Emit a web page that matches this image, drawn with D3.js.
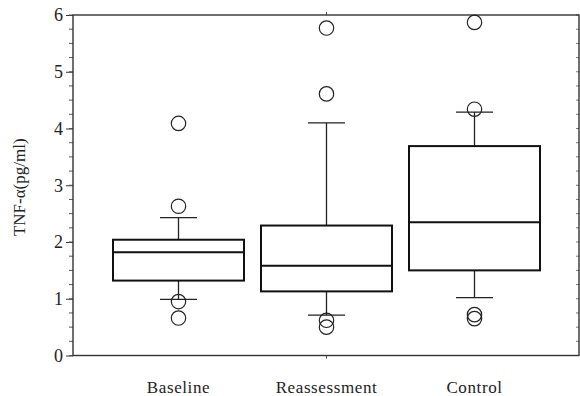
<!DOCTYPE html>
<html>
<head>
<meta charset="utf-8">
<script src="https://cdn.jsdelivr.net/npm/d3@7"></script>
<style>
  body { margin: 0; background: #fff; }
  svg text { font-family: "Liberation Serif", "Times New Roman", Times, "DejaVu Serif", serif; fill: #222; }
</style>
</head>
<body>
<svg id="chart" width="580" height="396"></svg>
<script>
// categories and box stats
var categories = ["Baseline", "Reassessment", "Control"];
var q1 = [1.32, 1.13, 1.50];
var median = [1.82, 1.58, 2.35];
var q3 = [2.04, 2.29, 3.69];
var whiskerLow = [0.99, 0.71, 1.02];
var whiskerHigh = [2.43, 4.10, 4.29];
var outliers = [
    [4.09, 2.63, 0.95, 0.66],
    [5.77, 4.61, 0.62, 0.50],
    [5.87, 4.34, 0.72, 0.65]
];
var yTicks = [0, 1, 2, 3, 4, 5, 6];

// plot frame (note: "top" is taken by window.top)
var m_left = 73, m_top = 15, m_right = 579, m_bottom = 355.5;
var serif = "'Liberation Serif', 'Times New Roman', Times, 'DejaVu Serif', serif";
var svg = d3.select("#chart");

var y = d3.scaleLinear().domain([0, 6]).range([m_bottom, m_top]);
var x = d3.scalePoint().domain(categories).range([178.5, 474.5]);
var boxW = 131, capW = 37;

// minor ticks every 0.25
var minor = d3.range(0, 6.001, 0.25);

// left axis
var yAxis = d3.axisLeft(y).tickValues(yTicks).tickSize(7).tickPadding(3).tickFormat(d3.format("d"));
var gy = svg.append("g").attr("transform", "translate(" + m_left + ",0)").call(yAxis)
    .attr("font-family", serif);
gy.select(".domain").remove();
gy.selectAll("line").attr("stroke", "#333");
gy.selectAll("text").attr("font-size", "18px").attr("fill", "#222");
svg.append("g").selectAll("line").data(minor).enter().append("line")
    .attr("x1", m_left - 4).attr("x2", m_left)
    .attr("y1", function(d) { return y(d); })
    .attr("y2", function(d) { return y(d); })
    .attr("stroke", "#555").attr("stroke-width", 1);

// right side ticks, inward
svg.append("g").selectAll("line").data(minor).enter().append("line")
    .attr("x1", m_right - 3).attr("x2", m_right)
    .attr("y1", function(d) { return y(d); })
    .attr("y2", function(d) { return y(d); })
    .attr("stroke", "#777").attr("stroke-width", 1);

// x ticks (only middle category shows one)
svg.append("line").attr("x1", x(categories[1])).attr("x2", x(categories[1]))
    .attr("y1", m_top - 3).attr("y2", m_top).attr("stroke", "#444");
svg.append("line").attr("x1", x(categories[1])).attr("x2", x(categories[1]))
    .attr("y1", m_bottom).attr("y2", m_bottom + 3).attr("stroke", "#444");

// frame
svg.append("rect")
    .attr("x", m_left).attr("y", m_top)
    .attr("width", m_right - m_left).attr("height", m_bottom - m_top)
    .attr("fill", "none").attr("stroke", "#333").attr("stroke-width", 1.4);

// boxes
var g = svg.selectAll(".box").data(categories).enter().append("g").attr("class", "box");

g.append("line")   // upper whisker
    .attr("x1", function(d) { return x(d); }).attr("x2", function(d) { return x(d); })
    .attr("y1", function(d, i) { return y(q3[i]); })
    .attr("y2", function(d, i) { return y(whiskerHigh[i]); })
    .attr("stroke", "#222").attr("stroke-width", 1.3);
g.append("line")   // lower whisker
    .attr("x1", function(d) { return x(d); }).attr("x2", function(d) { return x(d); })
    .attr("y1", function(d, i) { return y(q1[i]); })
    .attr("y2", function(d, i) { return y(whiskerLow[i]); })
    .attr("stroke", "#222").attr("stroke-width", 1.3);
g.append("line")
    .attr("x1", function(d) { return x(d) - capW / 2; }).attr("x2", function(d) { return x(d) + capW / 2; })
    .attr("y1", function(d, i) { return y(whiskerHigh[i]); })
    .attr("y2", function(d, i) { return y(whiskerHigh[i]); })
    .attr("stroke", "#222").attr("stroke-width", 1.3);
g.append("line")
    .attr("x1", function(d) { return x(d) - capW / 2; }).attr("x2", function(d) { return x(d) + capW / 2; })
    .attr("y1", function(d, i) { return y(whiskerLow[i]); })
    .attr("y2", function(d, i) { return y(whiskerLow[i]); })
    .attr("stroke", "#222").attr("stroke-width", 1.3);

g.append("rect")
    .attr("x", function(d) { return x(d) - boxW / 2; })
    .attr("y", function(d, i) { return y(q3[i]); })
    .attr("width", boxW)
    .attr("height", function(d, i) { return y(q1[i]) - y(q3[i]); })
    .attr("fill", "none").attr("stroke", "#111").attr("stroke-width", 2);
g.append("line")
    .attr("x1", function(d) { return x(d) - boxW / 2; }).attr("x2", function(d) { return x(d) + boxW / 2; })
    .attr("y1", function(d, i) { return y(median[i]); })
    .attr("y2", function(d, i) { return y(median[i]); })
    .attr("stroke", "#111").attr("stroke-width", 2);

g.each(function(d, i) {
    d3.select(this).selectAll("circle").data(outliers[i]).enter().append("circle")
        .attr("cx", x(d))
        .attr("cy", function(v) { return y(v); })
        .attr("r", 7.2)
        .attr("fill", "none").attr("stroke", "#222").attr("stroke-width", 1.2);
});

// category labels
svg.append("g").selectAll("text").data(categories).enter().append("text")
    .attr("x", function(d) { return x(d); })
    .attr("y", 393)
    .attr("text-anchor", "middle")
    .attr("font-family", serif)
    .attr("font-size", "17px")
    .attr("letter-spacing", "0.6px")
    .text(function(d) { return d; });

// y title
svg.append("text")
    .attr("transform", "translate(25," + ((m_top + m_bottom) / 2 + 2) + ") rotate(-90)")
    .attr("text-anchor", "middle")
    .attr("font-family", serif)
    .attr("font-size", "17px")
    .text("TNF-α(pg/ml)");
</script>
</body>
</html>
